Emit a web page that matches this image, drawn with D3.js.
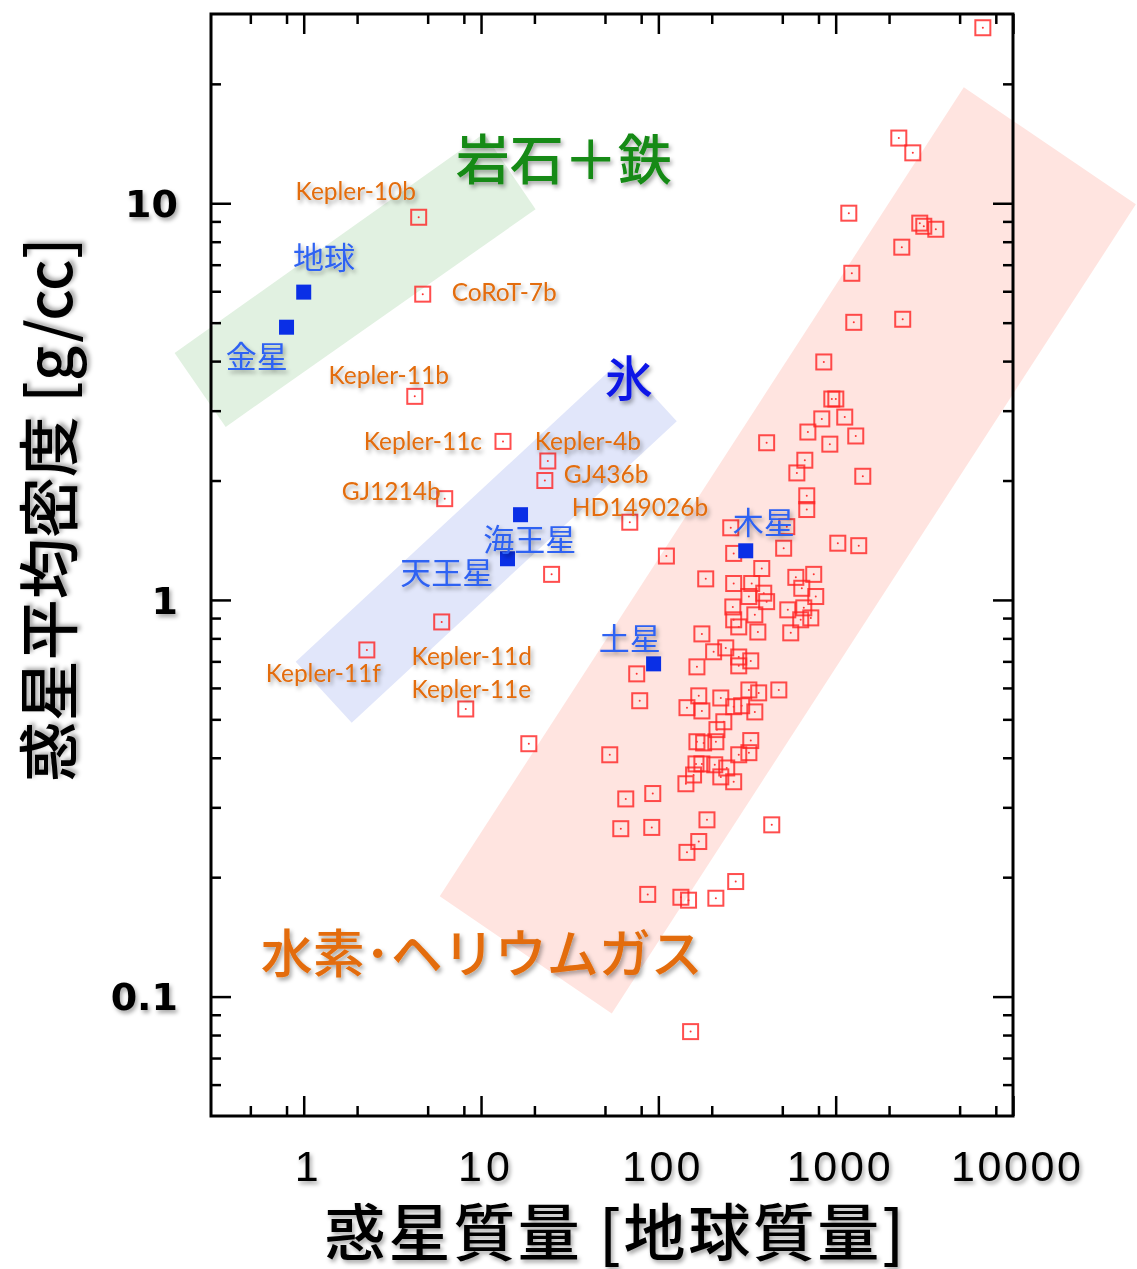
<!DOCTYPE html>
<html>
<head>
<meta charset="utf-8">
<script src="https://cdn.jsdelivr.net/npm/d3@7"></script>
<style>
  body { margin: 0; background: #fff; }
  svg { display: block; }
</style>
</head>
<body>
<svg id="chart"></svg>
<script>
// solar system planets (filled blue squares)
const planetNames = ["地球", "金星", "海王星", "天王星", "木星", "土星"];
const planetMass = [1.0, 0.8, 16.7, 14.1, 311, 94];
const planetDensity = [5.97, 4.87, 1.64, 1.27, 1.33, 0.69];
const planetLabelMass = [1.3, 0.543, 18.8, 6.4, 393, 69];
const planetLabelDensity = [7.27, 4.09, 1.42, 1.17, 1.56, 0.797];

// exoplanets (open red squares)
const exoMass = [857, 951, 1002, 835, 1125, 697, 927, 1298, 408, 670,
  604, 1422, 687, 687, 256, 530, 1028, 1349, 509, 111,
  266, 383, 185, 266, 336, 596, 752, 324, 393, 408,
  644, 772, 263, 350, 537, 661, 724, 635, 266, 284,
  364, 558, 176, 205, 240, 284, 332, 284, 165, 75.5,
  78.5, 478, 324, 368, 225, 169, 145, 176, 266, 295,
  350, 234, 214, 165, 180, 211, 332, 53.2, 284, 324,
  163, 176, 208, 158, 225, 243, 266, 143, 65.5, 93,
  61.4, 91.8, 188, 436, 169, 145, 273, 87.1, 134, 148,
  211, 152,
  6760, 2270, 2722, 1186, 2980, 3140, 3670, 2360, 1233, 1265, 2388,
  4.45, 4.69, 4.23, 13.3, 23.8, 22.9, 6.24, 69, 25.0, 2.27, 6.0, 8.2, 18.6];
const exoDensity = [3.98, 3.21, 3.21, 2.86, 2.89, 2.65, 2.47, 2.59, 2.49, 2.25,
  2.09, 2.05, 1.83, 1.69, 1.52, 1.53, 1.39, 1.37, 1.35, 1.29,
  1.31, 1.20, 1.13, 1.10, 1.10, 1.14, 1.16, 1.02, 1.04, 0.99,
  1.07, 1.02, 0.96, 0.917, 0.944, 0.955, 0.901, 0.891, 0.891, 0.855,
  0.830, 0.826, 0.821, 0.740, 0.757, 0.718, 0.702, 0.682, 0.678, 0.651,
  0.557, 0.593, 0.593, 0.583, 0.566, 0.573, 0.535, 0.525, 0.538, 0.541,
  0.522, 0.493, 0.471, 0.439, 0.436, 0.439, 0.442, 0.407, 0.407, 0.412,
  0.386, 0.386, 0.384, 0.362, 0.358, 0.377, 0.348, 0.344, 0.315, 0.325,
  0.265, 0.267, 0.279, 0.271, 0.246, 0.231, 0.195, 0.181, 0.178, 0.175,
  0.177, 0.0816,
  27.7, 14.6, 13.4, 9.44, 8.91, 8.75, 8.6, 7.75, 6.66, 5.01, 5.1,
  9.22, 5.90, 3.26, 2.51, 2.24, 2.0, 1.80, 1.57, 1.16, 0.748, 0.88, 0.531, 0.434];

// exoplanet name labels (anchored at left-middle of text)
const exoLabelNames = ["Kepler-10b", "CoRoT-7b", "Kepler-11b", "Kepler-11c", "Kepler-4b",
  "GJ436b", "GJ1214b", "HD149026b", "Kepler-11f", "Kepler-11d", "Kepler-11e"];
const exoLabelMass = [0.90, 6.83, 1.38, 2.18, 20.1, 29.3, 1.64, 32.5, 0.61, 4.06, 4.06];
const exoLabelDensity = [10.7, 5.97, 3.69, 2.51, 2.51, 2.08, 1.88, 1.71, 0.655, 0.723, 0.597];

// composition bands (corners in mass / density)
const rockBand = [[0.187, 4.19], [0.363, 2.73], [20.3, 9.66], [10.4, 15.0]];
const iceBand = [[0.901, 0.698], [1.865, 0.49], [127, 2.82], [61.4, 4.02]];
const gasBand = [[5.85, 0.179], [54.6, 0.0906], [49300, 9.94], [5280, 19.6]];
const bandNames = ["岩石＋鉄", "氷", "水素･ヘリウムガス"];
const bandLabelMass = [29.3, 68, 10.1];
const bandLabelDensity = [12.8, 3.62, 0.128];

// axes
const xMajor = [1, 10, 100, 1000, 10000];
const xTickLabels = ["1", "10", "100", "1000", "10000"];
const xMinor = [0.5, 0.8, 2, 5, 8, 20, 50, 80, 200, 500, 800, 2000, 5000, 8000];
const yMajor = [0.1, 1, 10];
const yTickLabels = ["0.1", "1", "10"];
const yMinor = [0.06, 0.07, 0.08, 0.09, 0.2, 0.3, 0.4, 0.5, 0.6, 0.7, 0.8, 0.9,
  2, 3, 4, 5, 6, 7, 8, 9, 20];
const xTitle = "惑星質量 [地球質量]";
const yTitle = "惑星平均密度 [g/cc]";

const W = 1137, H = 1269;
const m = { left: 211, right: 1013, top: 14, bottom: 1116 };
const jp = "'Noto Sans CJK JP', 'Noto Sans', sans-serif";

const svg = d3.select("#chart").attr("width", W).attr("height", H);
const defs = svg.append("defs");
defs.append("filter").attr("id", "shadow")
  .attr("x", "-20%").attr("y", "-30%").attr("width", "140%").attr("height", "160%")
  .append("feDropShadow")
  .attr("dx", 2).attr("dy", 3).attr("stdDeviation", 2)
  .attr("flood-color", "#000").attr("flood-opacity", 0.35);

const x = d3.scaleLog().domain([0.3, 10000]).range([m.left, m.right]);
const y = d3.scaleLog().domain([0.05, 30]).range([m.bottom, m.top]);

// bands
const poly = d3.line().x((d) => x(d[0])).y((d) => y(d[1]));
const bands = [
  { pts: rockBand, fill: "#e1f1e1" },
  { pts: iceBand, fill: "#e1e6fa" },
  { pts: gasBand, fill: "#ffe4e0" },
];
svg.append("g").selectAll("path").data(bands).join("path")
  .attr("d", (d) => poly(d.pts) + "Z")
  .attr("fill", (d) => d.fill);

// band labels
const bandColors = ["#138a13", "#0a14e6", "#e36c0a"];
const bandSizes = [54, 48, 52];
svg.append("g").selectAll("text").data(bandNames).join("text")
  .attr("x", (d, i) => x(bandLabelMass[i]))
  .attr("y", (d, i) => y(bandLabelDensity[i]))
  .attr("dy", "0.36em")
  .attr("text-anchor", "middle")
  .attr("font-family", jp)
  .attr("font-weight", 500)
  .attr("font-size", (d, i) => bandSizes[i])
  .attr("fill", (d, i) => bandColors[i])
  .attr("filter", "url(#shadow)")
  .text((d) => d);

// exoplanets
const exo = exoMass.map((v, i) => ({ m: v, d: exoDensity[i] }));
const eg = svg.append("g");
eg.selectAll("rect").data(exo).join("rect")
  .attr("x", (d) => x(d.m) - 7.5)
  .attr("y", (d) => y(d.d) - 7.5)
  .attr("width", 15).attr("height", 15)
  .attr("fill", "none")
  .attr("stroke", "#ff2222")
  .attr("stroke-width", 2)
  .attr("opacity", 0.8);
eg.selectAll("circle").data(exo).join("circle")
  .attr("cx", (d) => x(d.m))
  .attr("cy", (d) => y(d.d))
  .attr("r", 1)
  .attr("fill", "#ff3333");

// solar system planets
svg.append("g").selectAll("rect").data(planetMass).join("rect")
  .attr("x", (d) => x(d) - 7.5)
  .attr("y", (d, i) => y(planetDensity[i]) - 7.5)
  .attr("width", 15).attr("height", 15)
  .attr("fill", "#0a2fe6");

svg.append("g").selectAll("text").data(planetNames).join("text")
  .attr("x", (d, i) => x(planetLabelMass[i]))
  .attr("y", (d, i) => y(planetLabelDensity[i]))
  .attr("dy", "0.36em")
  .attr("text-anchor", "middle")
  .attr("font-family", jp)
  .attr("font-size", 31)
  .attr("fill", "#2f62f2")
  .attr("filter", "url(#shadow)")
  .text((d) => d);

svg.append("g").selectAll("text").data(exoLabelNames).join("text")
  .attr("x", (d, i) => x(exoLabelMass[i]))
  .attr("y", (d, i) => y(exoLabelDensity[i]))
  .attr("dy", "0.36em")
  .attr("font-family", "Lato, 'Open Sans', sans-serif")
  .attr("font-size", 24.5)
  .attr("fill", "#e36c0a")
  .attr("filter", "url(#shadow)")
  .text((d) => d);

// frame + ticks (all inward)
function ticks(axis, values, size, tr) {
  const g = svg.append("g").attr("transform", tr)
    .call(axis.tickValues(values).tickSize(size).tickFormat(""));
  g.select(".domain").remove();
  g.selectAll("line").attr("stroke", "#000").attr("stroke-width", 2.5);
  return g;
}
ticks(d3.axisBottom(x), xMajor, -20, `translate(0,${m.bottom})`);
ticks(d3.axisBottom(x), xMinor, -10, `translate(0,${m.bottom})`);
ticks(d3.axisTop(x), xMajor, -20, `translate(0,${m.top})`);
ticks(d3.axisTop(x), xMinor, -10, `translate(0,${m.top})`);
ticks(d3.axisLeft(y), yMajor, -20, `translate(${m.left},0)`);
ticks(d3.axisLeft(y), yMinor, -10, `translate(${m.left},0)`);
ticks(d3.axisRight(y), yMajor, -20, `translate(${m.right},0)`);
ticks(d3.axisRight(y), yMinor, -10, `translate(${m.right},0)`);

svg.append("rect")
  .attr("x", m.left).attr("y", m.top)
  .attr("width", m.right - m.left).attr("height", m.bottom - m.top)
  .attr("fill", "none").attr("stroke", "#000").attr("stroke-width", 3);

// tick labels
svg.append("g").selectAll("text").data(xMajor).join("text")
  .attr("x", (d) => x(d) + 3)
  .attr("y", m.bottom + 50)
  .attr("dy", "0.36em")
  .attr("text-anchor", "middle")
  .attr("font-family", "'Liberation Sans', Arial, sans-serif")
  .attr("font-size", 43)
  .attr("textLength", (d, i) => xTickLabels[i].length * 26)
  .attr("filter", "url(#shadow)")
  .text((d, i) => xTickLabels[i]);

svg.append("g").selectAll("text").data(yMajor).join("text")
  .attr("x", m.left - 33)
  .attr("y", (d) => y(d))
  .attr("dy", "0.36em")
  .attr("text-anchor", "end")
  .attr("font-family", "'DejaVu Sans', sans-serif")
  .attr("font-weight", "bold")
  .attr("font-size", 38)
  .attr("filter", "url(#shadow)")
  .text((d, i) => yTickLabels[i]);

// axis titles
svg.append("text")
  .attr("x", 614).attr("y", 1256)
  .attr("text-anchor", "middle")
  .attr("font-family", jp)
  .attr("font-weight", 500)
  .attr("font-size", 62)
  .attr("textLength", 580)
  .attr("lengthAdjust", "spacing")
  .attr("filter", "url(#shadow)")
  .text(xTitle);

svg.append("text")
  .attr("transform", "translate(50,510) rotate(-90)")
  .attr("dy", "0.36em")
  .attr("text-anchor", "middle")
  .attr("font-family", jp)
  .attr("font-weight", 500)
  .attr("font-size", 61)
  .attr("filter", "url(#shadow)")
  .text(yTitle);
</script>
</body>
</html>
